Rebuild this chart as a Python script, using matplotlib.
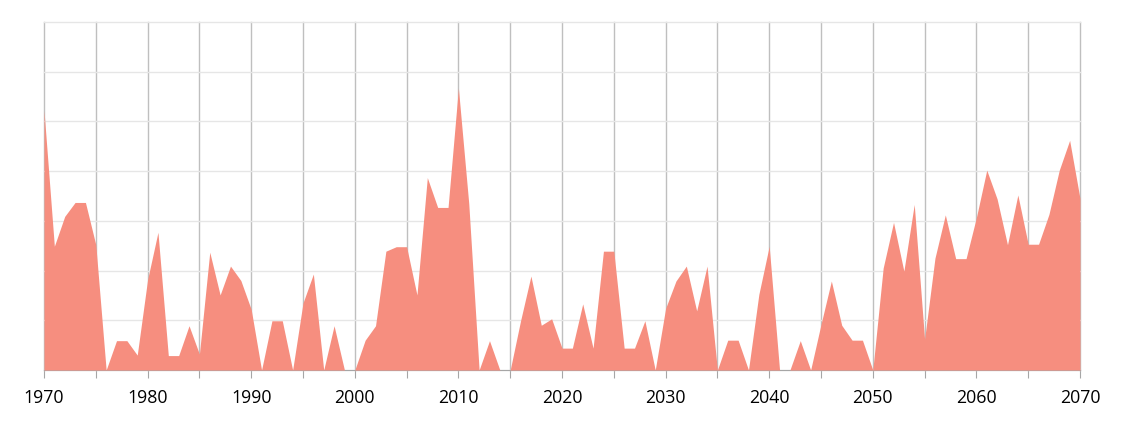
import numpy as np
import matplotlib.pyplot as plt
from matplotlib.ticker import MultipleLocator

# Data (units = one horizontal gridline)
years = np.arange(1970, 2071)
values = [
    5.22, 2.49, 3.09, 3.37, 3.37, 2.52, 0.00, 0.59, 0.59, 0.30,  # 1970-1979
    1.82, 2.77, 0.29, 0.29, 0.89, 0.32, 2.37, 1.51, 2.09, 1.80,  # 1980-1989
    1.22, 0.00, 0.99, 0.99, 0.00, 1.35, 1.93, 0.00, 0.89, 0.00,  # 1990-1999
    0.00, 0.60, 0.89, 2.39, 2.48, 2.48, 1.51, 3.87, 3.27, 3.27,  # 2000-2009
    5.67, 3.35, 0.00, 0.59, 0.00, 0.00, 0.99, 1.89, 0.90, 1.03,  # 2010-2019
    0.44, 0.44, 1.33, 0.44, 2.39, 2.39, 0.44, 0.44, 0.99, 0.00,  # 2020-2029
    1.24, 1.79, 2.09, 1.19, 2.09, 0.00, 0.60, 0.60, 0.00, 1.52,  # 2030-2039
    2.49, 0.00, 0.00, 0.59, 0.00, 0.92, 1.79, 0.90, 0.60, 0.60,  # 2040-2049
    0.00, 2.05, 2.97, 1.99, 3.33, 0.62, 2.25, 3.12, 2.24, 2.24,  # 2050-2059
    3.07, 4.02, 3.44, 2.52, 3.52, 2.53, 2.53, 3.13, 4.02, 4.62,  # 2060-2069
    3.45,                                                        # 2070
]
tick_years = list(range(1970, 2071, 10))

plt.rcParams['font.family'] = ['Open Sans', 'DejaVu Sans']

fig = plt.figure(figsize=(11.24, 4.23), dpi=100)
ax = fig.add_axes([44 / 1124, (423 - 370) / 423, (1080 - 44) / 1124, (370 - 22) / 423])

ax.fill_between(years, values, 0, color='#F68E7F', linewidth=0, zorder=3)

ax.set_xlim(1970, 2070)
ax.set_ylim(0, 7)

# gridlines
ax.yaxis.set_major_locator(MultipleLocator(1))
ax.xaxis.set_major_locator(MultipleLocator(5))
ax.grid(axis='y', color='#E6E6E6', linewidth=1, zorder=0)
ax.grid(axis='x', color='#BFBFBF', linewidth=1, zorder=0)
ax.set_axisbelow(True)
for gl in ax.get_xgridlines() + ax.get_ygridlines():
    gl.set_clip_on(False)

ax.set_xticks(range(1970, 2071, 5))
ax.set_xticklabels([str(y) if y in tick_years else '' for y in range(1970, 2071, 5)])
ax.tick_params(axis='x', direction='out', length=6, color='#A6A6A6', labelsize=12.8,
               labelcolor='black', pad=8)
ax.tick_params(axis='y', left=False, labelleft=False)

for side in ['top', 'right', 'left']:
    ax.spines[side].set_visible(False)
ax.spines['bottom'].set_color('#A6A6A6')

fig.savefig('out.png', dpi=100)
